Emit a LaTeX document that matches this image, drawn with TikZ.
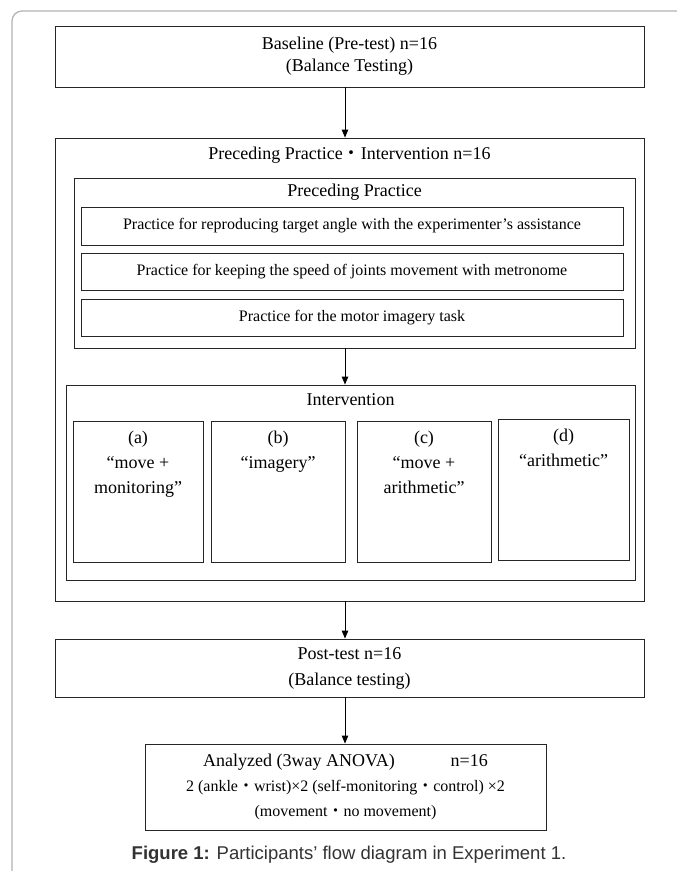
\documentclass[tikz,border=0pt]{standalone}
\usepackage{fontspec}
\setmainfont{Liberation Serif}
\newfontfamily\capfont{Liberation Sans}
\newfontfamily\cjk{Noto Sans CJK JP}
\usetikzlibrary{arrows.meta}
\newcommand{\nakaguro}{{\cjk ・}}

\begin{document}
\begin{tikzpicture}[x=1pt,y=-1pt,
  box/.style={draw=black!85,line width=0.9pt,inner sep=0pt},
  big/.style={align=center,font=\fontsize{18}{22}\selectfont},
  small/.style={align=center,font=\fontsize{16}{25}\selectfont},
  ttl/.style={inner sep=0pt,font=\fontsize{18}{22}\selectfont},
  arr/.style={-{Triangle[length=8pt,width=6.5pt]},line width=0.9pt},
  frm/.style={draw=black!30,line width=1.2pt,rounded corners=10pt}]
\useasboundingbox (0,0) rectangle (677,871);
\draw[frm] (12,871) -- (12,11) -- (677,11);
\coordinate (ax) at (345,0);

\node (base) at (349.5,56.5) [box,big,minimum width=589pt,minimum height=61pt] {Baseline (Pre-test) n=16\\(Balance Testing)};

\node (outer) at (349.5,369.5) [box,minimum width=589pt,minimum height=463pt] {};
  \node (outert) at (349.5,155) [ttl] {Preceding Practice\nakaguro Intervention n=16};

  \node (prep) at (354.5,263) [box,minimum width=561pt,minimum height=170pt] {};
    \node (prept) at (354.5,192) [ttl] {Preceding Practice};
    \node (p1) at (352,226) [box,small,minimum width=542pt,minimum height=38pt] {Practice for reproducing target angle with the experimenter’s assistance};
    \node (p2) at (352,271.5) [box,small,minimum width=542pt,minimum height=37pt] {Practice for keeping the speed of joints movement with metronome};
    \node (p3) at (352,317.5) [box,small,minimum width=542pt,minimum height=37pt] {Practice for the motor imagery task};

  \node (intv) at (350.5,482.5) [box,minimum width=569pt,minimum height=195pt] {};
    \node (intvt) at (350.5,400) [ttl] {Intervention};
    \node (a) at (138,491.5) [box,minimum width=130pt,minimum height=141pt] {};
    \node (at) at (138,427) [big,anchor=north,font=\fontsize{18}{25}\selectfont] {(a)\\“move +\\monitoring”};
    \node (b) at (278,491.5) [box,minimum width=134pt,minimum height=141pt] {};
    \node (bt) at (278,427) [big,anchor=north,font=\fontsize{18}{25}\selectfont] {(b)\\“imagery”};
    \node (c) at (424,491.5) [box,minimum width=134pt,minimum height=141pt] {};
    \node (ct) at (424,427) [big,anchor=north,font=\fontsize{18}{25}\selectfont] {(c)\\“move +\\arithmetic”};
    \node (d) at (563.5,489.5) [box,minimum width=131pt,minimum height=141pt] {};
    \node (dt) at (563.5,425) [big,anchor=north,font=\fontsize{18}{25}\selectfont] {(d)\\“arithmetic”};

\node (post) at (349.5,668) [box,big,minimum width=589pt,minimum height=58pt,font=\fontsize{18}{26}\selectfont] {Post-test n=16\\(Balance testing)};

\node (ana) at (345.5,787) [box,minimum width=401pt,minimum height=86pt,align=center,font=\fontsize{16}{25}\selectfont] {{\fontsize{18}{25}\selectfont Analyzed (3way ANOVA)\hspace{56pt}n=16}\\2 (ankle\nakaguro wrist)×2 (self-monitoring\nakaguro control) ×2\\(movement\nakaguro no movement)};

\node (cap) at (349,855) [text=black!80,font=\capfont\fontsize{18.5}{22}\selectfont] {\textbf{Figure 1:} Participants’ flow diagram in Experiment 1.};

\draw[arr] (base.south -| ax) -- (outer.north -| ax);
\draw[arr] (prep.south -| ax) -- (intv.north -| ax);
\draw[arr] (outer.south -| ax) -- (post.north -| ax);
\draw[arr] (post.south -| ax) -- (ana.north -| ax);
\end{tikzpicture}
\end{document}
